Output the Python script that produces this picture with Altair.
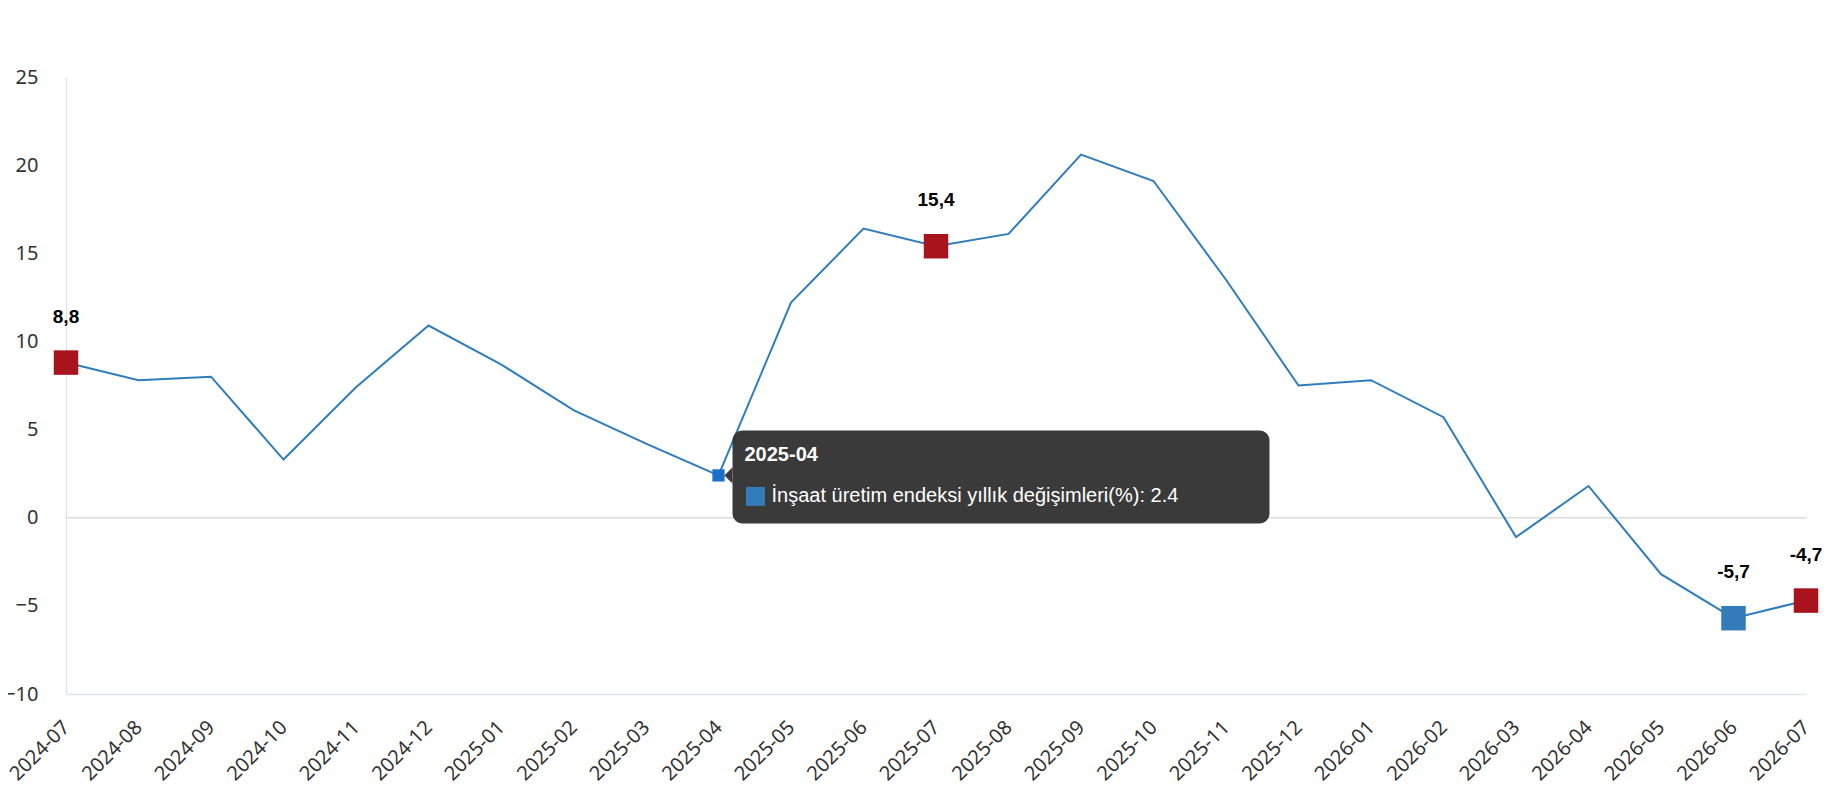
import altair as alt
import pandas as pd

# Monthly data
months = ['2024-07', '2024-08', '2024-09', '2024-10', '2024-11', '2024-12',
          '2025-01', '2025-02', '2025-03', '2025-04', '2025-05', '2025-06',
          '2025-07', '2025-08', '2025-09', '2025-10', '2025-11', '2025-12',
          '2026-01', '2026-02', '2026-03', '2026-04', '2026-05', '2026-06', '2026-07']
values = [8.8, 7.8, 8.0, 3.3, 7.4, 10.9, 8.7, 6.1, 4.2, 2.4, 12.2, 16.4,
          15.4, 16.1, 20.6, 19.1, 13.5, 7.5, 7.8, 5.7, -1.1, 1.8, -3.2, -5.7, -4.7]
marked_months = ['2024-07', '2025-07', '2026-06', '2026-07']
marked_kinds = ['yıllık', 'yıllık', 'en düşük', 'yıllık']
hover_month = '2025-04'
series_name = 'İnşaat üretim endeksi yıllık değişimleri(%)'
y_ticks = [-10, -5, 0, 5, 10, 15, 20, 25]

# Plot area size (px) and helpers to turn pixel offsets into data offsets
W, H = 1740, 617
Y_MIN, Y_MAX = -10, 25
px_month = W / (len(months) - 1)
px_unit = H / (Y_MAX - Y_MIN)

df = pd.DataFrame({'idx': range(len(months)), 'month': months, 'value': values})

marks = df[df['month'].isin(marked_months)].copy()
marks['kind'] = [marked_kinds[marked_months.index(m)] for m in marks['month']]
marks['label'] = [f'{v:.1f}'.replace('.', ',') for v in marks['value']]

hov = df[df['month'] == hover_month].iloc[0]
hi, hv = hov['idx'], hov['value']

tip_box = pd.DataFrame({
    'x0': [hi + 14 / px_month], 'x1': [hi + 551 / px_month],
    'y0': [hv + 45 / px_unit], 'y1': [hv - 48 / px_unit],
})
tip_arrow = pd.DataFrame({'x': [hi + 14 / px_month], 'y': [hv]})
tip_key = pd.DataFrame({'x': [hi + 37 / px_month], 'y': [hv - 21 / px_unit]})
tip_text = pd.DataFrame({
    'idx': [hi], 'value': [hv],
    'title': [hover_month],
    'body': [f'{series_name}: {hv}'],
})

label_expr = '[' + ','.join(f"'{m}'" for m in months) + '][datum.value]'

x_scale = alt.Scale(domain=[0, len(months) - 1], nice=False, zero=False)
y_scale = alt.Scale(domain=[Y_MIN, Y_MAX], nice=False, zero=False)
x_axis = alt.Axis(values=list(range(len(months))), labelExpr=label_expr, labelAngle=-45,
                  labelAlign='right', labelBaseline='middle', labelPadding=30, title=None)
y_axis = alt.Axis(values=y_ticks, labelPadding=28, title=None)


def X(field):
    return alt.X(field, scale=x_scale, axis=x_axis)


def Y(field):
    return alt.Y(field, scale=y_scale, axis=y_axis)


zero_line = alt.Chart(pd.DataFrame({'value': [0]})).mark_rule(
    color='#dcdcdc', strokeWidth=1.5
).encode(y=Y('value:Q'))

line = alt.Chart(df).mark_line(color='#2f7dbd', strokeWidth=2).encode(
    x=X('idx:Q'), y=Y('value:Q')
)

hover_pt = alt.Chart(df[df['month'] == hover_month]).mark_square(
    size=150, color='#1a6fc6', opacity=1
).encode(x=X('idx:Q'), y=Y('value:Q'))

squares = alt.Chart(marks).mark_square(size=600, opacity=1).encode(
    x=X('idx:Q'), y=Y('value:Q'),
    color=alt.Color('kind:N', legend=None,
                    scale=alt.Scale(domain=['yıllık', 'en düşük'], range=['#a8131c', '#337cb9']))
)

labels = alt.Chart(marks).mark_text(
    dy=-46, font='Liberation Sans', fontSize=19, fontWeight='bold', color='#000'
).encode(x=X('idx:Q'), y=Y('value:Q'), text='label:N')

box = alt.Chart(tip_box).mark_rect(cornerRadius=10, color='#323232', opacity=0.96).encode(
    x=X('x0:Q'), x2='x1:Q', y=Y('y0:Q'), y2='y1:Q'
)

arrow = alt.Chart(tip_arrow).mark_point(
    shape='M 0 -0.9 L -0.9 0 L 0 0.9 Z', size=324, filled=True, color='#323232', opacity=0.96
).encode(x=X('x:Q'), y=Y('y:Q'))

key = alt.Chart(tip_key).mark_square(size=361, color='#337cb9', opacity=1).encode(
    x=X('x:Q'), y=Y('y:Q')
)

title_txt = alt.Chart(tip_text).mark_text(
    align='left', dx=26, dy=-20, font='Liberation Sans', fontSize=20, fontWeight='bold', color='#fff'
).encode(x=X('idx:Q'), y=Y('value:Q'), text='title:N')

body_txt = alt.Chart(tip_text).mark_text(
    align='left', dx=53, dy=21, font='Liberation Sans', fontSize=20, color='#fff'
).encode(x=X('idx:Q'), y=Y('value:Q'), text='body:N')

chart = alt.layer(
    zero_line, line, hover_pt, squares, labels, box, arrow, key, title_txt, body_txt
).properties(
    width=W, height=H,
    autosize=alt.AutoSizeParams(type='none'),
    padding={'left': 58, 'top': 69, 'right': 16, 'bottom': 95},
).configure_view(
    stroke=None
).configure_axis(
    grid=False, ticks=False, tickSize=0,
    labelFont='Noto Sans', labelFontSize=20, labelColor='#333',
    domainColor='#e0e6f1', domainWidth=1.5,
)

chart.save('out.html', embed_options={'renderer': 'svg', 'actions': False})
